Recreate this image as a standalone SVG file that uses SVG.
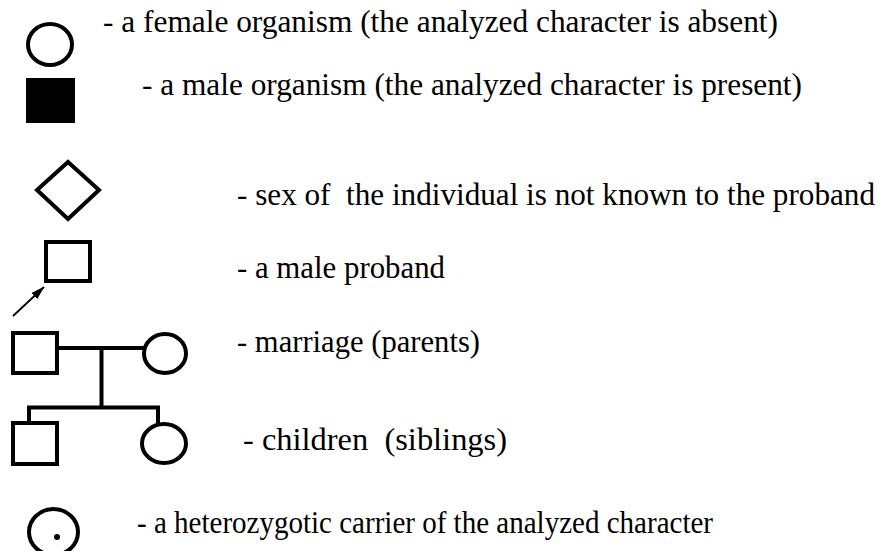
<svg xmlns="http://www.w3.org/2000/svg" width="883" height="551" viewBox="0 0 883 551">
<style>
.s{fill:none;stroke:#000;stroke-width:4;stroke-linejoin:miter}
.f{fill:#000;stroke:none}
.t{font-family:'Liberation Serif','Times New Roman',serif;font-size:31.2px;fill:#000;white-space:pre}
</style>
<defs>
<marker id="ah" viewBox="0 0 10 10" refX="9.5" refY="5" markerWidth="14" markerHeight="14" orient="auto" markerUnits="userSpaceOnUse">
<path d="M0,2 L10,5 L0,8 z" fill="#000"/>
</marker>
</defs>
<rect width="883" height="551" fill="#fff"/>
<g id="female">
<ellipse class="s" cx="50" cy="44.5" rx="22" ry="20.5"/>
<text class="t" x="103" y="32" textLength="675" lengthAdjust="spacingAndGlyphs">- a female organism (the analyzed character is absent)</text>
</g>
<g id="male-affected">
<rect class="f" x="26" y="78" width="49" height="45"/>
<text class="t" x="142" y="95" textLength="660" lengthAdjust="spacingAndGlyphs">- a male organism (the analyzed character is present)</text>
</g>
<g id="unknown-sex">
<polygon class="s" points="68,162 99,190 68,219 37,190"/>
<text class="t" x="237" y="205" textLength="638" lengthAdjust="spacingAndGlyphs">- sex of  the individual is not known to the proband</text>
</g>
<g id="proband">
<rect class="s" x="46" y="242" width="44" height="39"/>
<text class="t" x="237" y="278" textLength="208" lengthAdjust="spacingAndGlyphs">- a male proband</text>
</g>
<g id="parent-male">
<rect class="s" x="13" y="333" width="44" height="40"/>
</g>
<g id="parent-female">
<ellipse class="s" cx="165" cy="353.5" rx="21" ry="19.5"/>
</g>
<g id="child-male">
<rect class="s" x="13" y="423" width="44" height="41"/>
</g>
<g id="child-female">
<ellipse class="s" cx="164" cy="443.5" rx="22" ry="19.5"/>
</g>
<g id="carrier">
<ellipse class="s" cx="53.5" cy="532" rx="24.5" ry="23"/>
<circle class="f" cx="57" cy="537" r="3"/>
</g>
<g id="connectors">
<line x1="13" y1="316" x2="44" y2="287" stroke="#000" stroke-width="1.8" marker-end="url(#ah)"/>
<line class="s" x1="57" y1="348" x2="144" y2="348"/>
<line class="s" x1="101.5" y1="348" x2="101.5" y2="407.5"/>
<polyline class="s" points="29,425 29,407.5 158,407.5 158,424"/>
</g>
<g id="labels">
<text class="t" x="237" y="352" textLength="243" lengthAdjust="spacingAndGlyphs">- marriage (parents)</text>
<text class="t" x="243" y="450" textLength="264" lengthAdjust="spacingAndGlyphs">- children  (siblings)</text>
<text class="t" x="137" y="533" textLength="576" lengthAdjust="spacingAndGlyphs">- a heterozygotic carrier of the analyzed character</text>
</g>
</svg>
